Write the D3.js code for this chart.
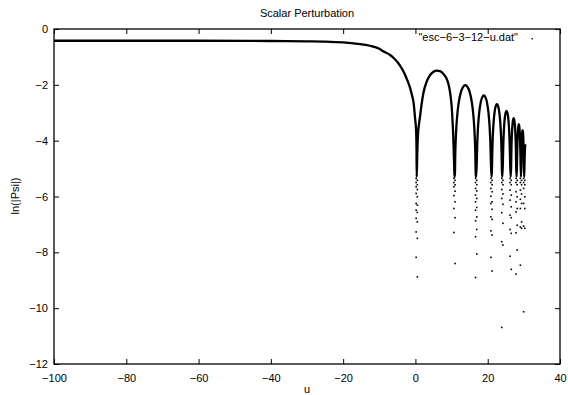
<!DOCTYPE html>
<html>
<head>
<meta charset="utf-8">
<script src="https://cdn.jsdelivr.net/npm/d3@7"></script>
<style>
  body { margin: 0; background: #fff; }
  svg { display: block; }
  text { font-family: "Liberation Sans", Arial, Helvetica, sans-serif; font-size: 11px; fill: #000; }
</style>
</head>
<body>
<svg id="plot" width="568" height="395"></svg>
<script>
// values
const xTicks = [-100, -80, -60, -40, -20, 0, 20, 40];
const yTicks = [0, -2, -4, -6, -8, -10, -12];

// u along the curve
const curveU = [
  -100, -80, -60, -40, -30, -25, -20, -16, -12.6, -10, -8.9, -7, -6.1, -5, -4.3, -3, -2.2, -1.5, -1, -0.5, -0.1, 0.17, 0.3, 0.36,
  0.5, 0.7, 1.0, 1.27, 1.7, 2.19, 3.1, 4.04, 5.0, 5.9, 6.8, 7.7, 8.5, 9.1, 9.5, 9.85, 10.1, 10.3, 10.45, 10.6, 10.72, 10.8,
  10.92, 11.04, 11.22, 11.52, 12.0, 12.6, 13.2, 13.8, 14.4, 15.0, 15.6, 16.08, 16.38, 16.56, 16.68, 16.8,
  16.97, 17.10, 17.31, 17.65, 18.08, 18.5, 18.93, 19.35, 19.78, 20.2, 20.54, 20.75, 20.88, 21.05,
  21.17, 21.26, 21.41, 21.65, 21.95, 22.25, 22.55, 22.85, 23.15, 23.45, 23.69, 23.84, 23.93, 24.05,
  24.21, 24.33, 24.51, 24.74, 24.97, 25.2, 25.43, 25.66, 25.89, 26.07, 26.19, 26.35,
  26.47, 26.55, 26.68, 26.85, 27.01, 27.18, 27.34, 27.51, 27.67, 27.8, 27.88, 28.0,
  28.14, 28.24, 28.36, 28.48, 28.6, 28.72, 28.84, 28.96, 29.06, 29.2,
  29.31, 29.38, 29.47, 29.56, 29.65, 29.74, 29.83, 29.92, 29.99, 30.1,
  30.2, 30.3, 30.4
];
// ln(|Psi|) along the curve
const curveLn = [
  -0.42, -0.42, -0.42, -0.43, -0.44, -0.45, -0.48, -0.53, -0.6, -0.71, -0.8, -0.93, -1.03, -1.18, -1.3, -1.6, -1.85, -2.1, -2.35, -2.65, -3.2, -3.6, -4.3, -5.3,
  -4.5, -3.8, -3.4, -3.14, -2.7, -2.3, -1.89, -1.65, -1.53, -1.49, -1.51, -1.6, -1.75, -1.95, -2.2, -2.54, -2.9, -3.38, -3.8, -4.4, -4.9, -5.3,
  -5.19, -4.40, -3.77, -3.16, -2.62, -2.25, -2.07, -2.01, -2.07, -2.25, -2.62, -3.16, -3.77, -4.40, -5.19, -5.3,
  -4.77, -4.14, -3.53, -2.99, -2.62, -2.44, -2.38, -2.44, -2.62, -2.99, -3.53, -4.14, -4.77, -5.3,
  -5.08, -4.45, -3.84, -3.30, -2.93, -2.75, -2.69, -2.75, -2.93, -3.30, -3.84, -4.45, -5.08, -5.3,
  -4.69, -4.08, -3.54, -3.17, -2.99, -2.93, -2.99, -3.17, -3.54, -4.08, -4.69, -5.3,
  -4.95, -4.34, -3.80, -3.43, -3.25, -3.19, -3.25, -3.43, -3.80, -4.34, -4.95, -5.3,
  -4.56, -4.02, -3.65, -3.47, -3.41, -3.47, -3.65, -4.02, -4.56, -5.3,
  -4.77, -4.23, -3.86, -3.68, -3.62, -3.68, -3.86, -4.23, -4.77, -5.3,
  -4.7, -4.3, -4.12
];

// zero crossings: columns of isolated points under each dip
const dipU = [0.36, 10.8, 16.8, 21.05, 24.05, 26.35, 28.0, 29.2, 30.1];
const dipDense = [-5.35, -5.42, -5.5, -5.58];
const dipLn = [
  [-5.65, -5.75, -5.89, -6.01, -6.25, -6.31, -6.49, -6.57, -6.78, -6.91, -7.27, -7.50, -8.18, -8.88],
  [-5.65, -5.81, -5.97, -6.19, -6.43, -6.76, -7.29, -8.40],
  [-5.71, -5.80, -5.95, -6.07, -6.19, -6.39, -6.49, -6.73, -6.87, -7.18, -7.44, -8.06, -8.90],
  [-5.71, -5.83, -5.99, -6.19, -6.25, -6.46, -6.73, -6.82, -7.23, -7.38, -8.18, -8.67],
  [-5.75, -5.91, -6.07, -6.28, -6.58, -6.96, -7.62, -7.74, -10.69],
  [-5.77, -5.95, -6.13, -6.37, -6.67, -6.76, -7.18, -7.32, -8.14, -8.61],
  [-5.83, -6.01, -6.19, -6.43, -6.55, -7.03, -7.30, -7.92, -8.78],
  [-5.77, -5.91, -6.10, -6.25, -6.43, -6.91, -7.09, -7.14, -8.46],
  [-5.71, -6.01, -6.25, -6.43, -7.06, -7.14, -10.13]
];

const seriesName = "\"esc\u22126\u22123\u221212\u2212u.dat\"";

let svg = d3.select('#plot');

let x = d3.scaleLinear().domain([-100, 40]).range([54, 560]);
let y = d3.scaleLinear().domain([-12, 0]).range([364, 29]);

// axes, gnuplot style: ticks pointing in, mirrored on top/right
svg.append('g')
  .attr('transform', 'translate(0,364)')
  .call(d3.axisBottom(x).tickValues(xTicks).tickSizeInner(-5).tickSizeOuter(0).tickPadding(10));
svg.append('g')
  .attr('transform', 'translate(0,29)')
  .call(d3.axisTop(x).tickValues(xTicks).tickSizeInner(-5).tickSizeOuter(0).tickFormat(''));
svg.append('g')
  .attr('transform', 'translate(54,0)')
  .call(d3.axisLeft(y).tickValues(yTicks).tickSizeInner(-5).tickSizeOuter(0).tickPadding(6));
svg.append('g')
  .attr('transform', 'translate(560,0)')
  .call(d3.axisRight(y).tickValues(yTicks).tickSizeInner(-5).tickSizeOuter(0).tickFormat(''));

svg.selectAll('.domain').remove();
svg.selectAll('.tick line').attr('stroke', '#000').attr('stroke-width', 1);
svg.selectAll('.tick text')
  .style('font-family', '"Liberation Sans", Arial, sans-serif')
  .style('font-size', '11px')
  .attr('fill', '#000');

svg.append('rect')
  .attr('x', x(-100)).attr('y', y(0))
  .attr('width', x(40) - x(-100)).attr('height', y(-12) - y(0))
  .attr('fill', 'none').attr('stroke', '#000').attr('stroke-width', 1.3);

// curve
let pts = curveU.map(function(u, i) { return [u, curveLn[i]]; });
let line = d3.line()
  .x(function(d) { return x(d[0]); })
  .y(function(d) { return y(d[1]); })
  .curve(d3.curveMonotoneX);

svg.append('path')
  .datum(pts)
  .attr('d', line)
  .attr('fill', 'none')
  .attr('stroke', '#000')
  .attr('stroke-width', 2.3)
  .attr('stroke-linejoin', 'round');

// isolated points in the dips
let dots = [];
dipU.forEach(function(u, c) {
  dipDense.concat(dipLn[c]).forEach(function(v, k) {
    dots.push({ u: u, v: v, k: k });
  });
});

svg.append('g')
  .selectAll('rect')
  .data(dots)
  .join('rect')
  .attr('x', function(d) { return x(d.u) - 0.8 + (d.k % 2 ? 0.6 : -0.6); })
  .attr('y', function(d) { return y(d.v) - 0.8; })
  .attr('width', 1.6)
  .attr('height', 1.6)
  .attr('fill', '#000');

// labels
svg.append('text')
  .attr('x', 307).attr('y', 17)
  .attr('text-anchor', 'middle')
  .text('Scalar Perturbation');

svg.append('text')
  .attr('x', 307).attr('y', 393)
  .attr('text-anchor', 'middle')
  .text('u');

svg.append('text')
  .attr('transform', 'translate(19,196) rotate(-90)')
  .attr('text-anchor', 'middle')
  .text('ln(|Psi|)');

// key
svg.append('text')
  .attr('x', 518).attr('y', 41)
  .attr('text-anchor', 'end')
  .text(seriesName);
svg.append('rect')
  .attr('x', 531.5).attr('y', 38)
  .attr('width', 1.4).attr('height', 1.4)
  .attr('fill', '#000');
</script>
</body>
</html>
